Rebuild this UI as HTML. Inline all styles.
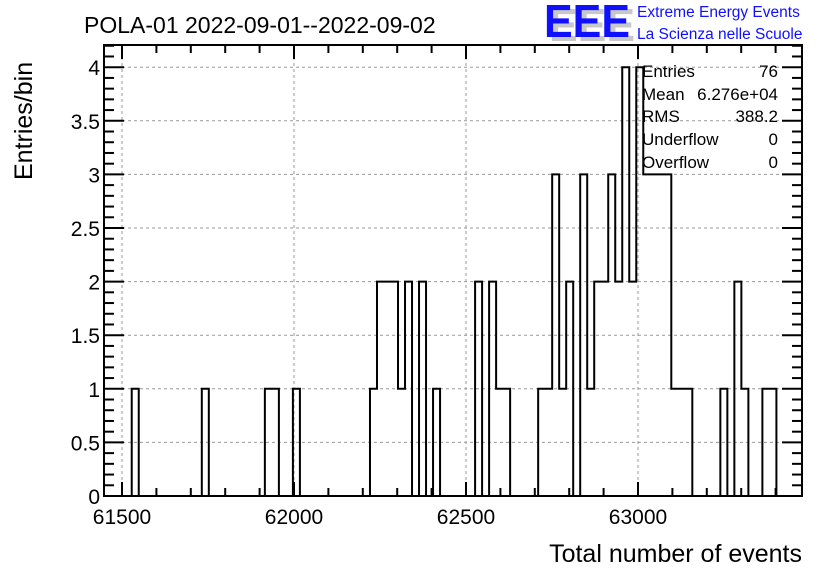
<!DOCTYPE html>
<html><head><meta charset="utf-8"><style>
body{margin:0;background:#fff;}
svg{display:block;font-family:"Liberation Sans",Arial,sans-serif;}
</style></head><body>
<svg id="c" width="836" height="572" viewBox="0 0 836 572">
<rect width="836" height="572" fill="#fff"/>
<text x="84" y="33" font-size="23">POLA-01 2022-09-01--2022-09-02</text>
<g>
<text x="549" y="41" font-size="46" font-weight="bold" fill="#c8c8c8" textLength="86" lengthAdjust="spacingAndGlyphs">EEE</text>
<text x="544" y="37" font-size="46" font-weight="bold" fill="#1010ff" textLength="86" lengthAdjust="spacingAndGlyphs">EEE</text>
<text x="637" y="17" font-size="15.5" fill="#1010ff">Extreme Energy Events</text>
<text x="637" y="39" font-size="15.5" fill="#1010ff">La Scienza nelle Scuole</text>
</g>
<g id="grid"></g>
<g id="bars"></g>
<g id="axes"></g>
<g font-size="17">
<text x="642" y="77">Entries</text><text x="778" y="77" text-anchor="end">76</text>
<text x="642" y="100">Mean</text><text x="778" y="100" text-anchor="end">6.276e+04</text>
<text x="642" y="122">RMS</text><text x="778" y="122" text-anchor="end">388.2</text>
<text x="642" y="145">Underflow</text><text x="778" y="145" text-anchor="end">0</text>
<text x="642" y="168">Overflow</text><text x="778" y="168" text-anchor="end">0</text>
</g>
<text x="802" y="562" font-size="25" text-anchor="end">Total number of events</text>
<text transform="translate(32,180) rotate(-90)" font-size="25">Entries/bin</text>
</svg>
<script>
const binStart = 61528.3;
const binWidth = 20.37;
const counts = [1,0,0,0,0,0,0,0,0,0, 1,0,0,0,0,0,0,0,0,1, 1,0,0,1,0,0,0,0,0,0,
0,0,0,0,1,2,2,2,1,2, 0,2,0,1,0,0,0,0,0,2, 0,2,1,1,0,0,0,0,1,1,
3,1,2,0,3,1,2,2,3,2, 4,2,4,3,3,3,3,1,1,1, 0,0,0,0,1,0,2,1,0,0, 1,1];
const xTicks = [61500,62000,62500,63000];
const yTicks = [0,0.5,1,1.5,2,2.5,3,3.5,4];
const yTickLabels = ["0","0.5","1","1.5","2","2.5","3","3.5","4"];

const L=104,R=802,T=45,B=496;
const xs=v=>122+(v-61500)*(172/500);
const ys=v=>B-v*107.2;
const NS='http://www.w3.org/2000/svg';
function mk(tag,attrs,parent){const e=document.createElementNS(NS,tag);for(const k in attrs)e.setAttribute(k,attrs[k]);parent.appendChild(e);return e;}
const grid=document.getElementById('grid'),bars=document.getElementById('bars'),axes=document.getElementById('axes');
xTicks.forEach(v=>{const l=mk('line',{x1:xs(v),x2:xs(v),y1:T,y2:B,stroke:'#999','stroke-dasharray':'3,3','stroke-width':1},grid);

});
yTicks.forEach(v=>{const l=mk('line',{x1:L,x2:R,y1:ys(v),y2:ys(v),stroke:'#999','stroke-dasharray':'3,3','stroke-width':1},grid);

});
// histogram step outline
let d='M'+xs(binStart)+','+ys(0);
counts.forEach((c,i)=>{const x0=xs(binStart+i*binWidth),x1=xs(binStart+(i+1)*binWidth);d+=' L'+x0+','+ys(c)+' L'+x1+','+ys(c);});
d+=' L'+xs(binStart+counts.length*binWidth)+','+ys(0);
const p=mk('path',{d:d,fill:'none',stroke:'#000','stroke-width':2},bars);


// frame
const f=mk('rect',{x:L,y:T,width:R-L,height:B-T,fill:'none',stroke:'#000','stroke-width':2},axes);


// x ticks
for(let v=61500;v<=63400;v+=100){const major=v%500===0;const x=xs(v);const h=major?14:8;
mk('line',{x1:x,x2:x,y1:B,y2:B-h,stroke:'#000','stroke-width':2},axes);
mk('line',{x1:x,x2:x,y1:T,y2:T+h,stroke:'#000','stroke-width':2},axes);}
xTicks.forEach(v=>{const t=mk('text',{x:xs(v),y:B+28,'font-size':21,'text-anchor':'middle'},axes);t.textContent=String(v);

});
// y ticks
for(let k=0;k<=42;k++){const v=k/10;const major=k%5===0;const y=ys(v);const w=major?20:10;
mk('line',{x1:L,x2:L+w,y1:y,y2:y,stroke:'#000','stroke-width':2},axes);
mk('line',{x1:R,x2:R-w,y1:y,y2:y,stroke:'#000','stroke-width':2},axes);}
yTicks.forEach((v,i)=>{const t=mk('text',{x:L-4,y:ys(v)+8,'font-size':21,'text-anchor':'end'},axes);t.textContent=yTickLabels[i];

});
</script>
</body></html>
